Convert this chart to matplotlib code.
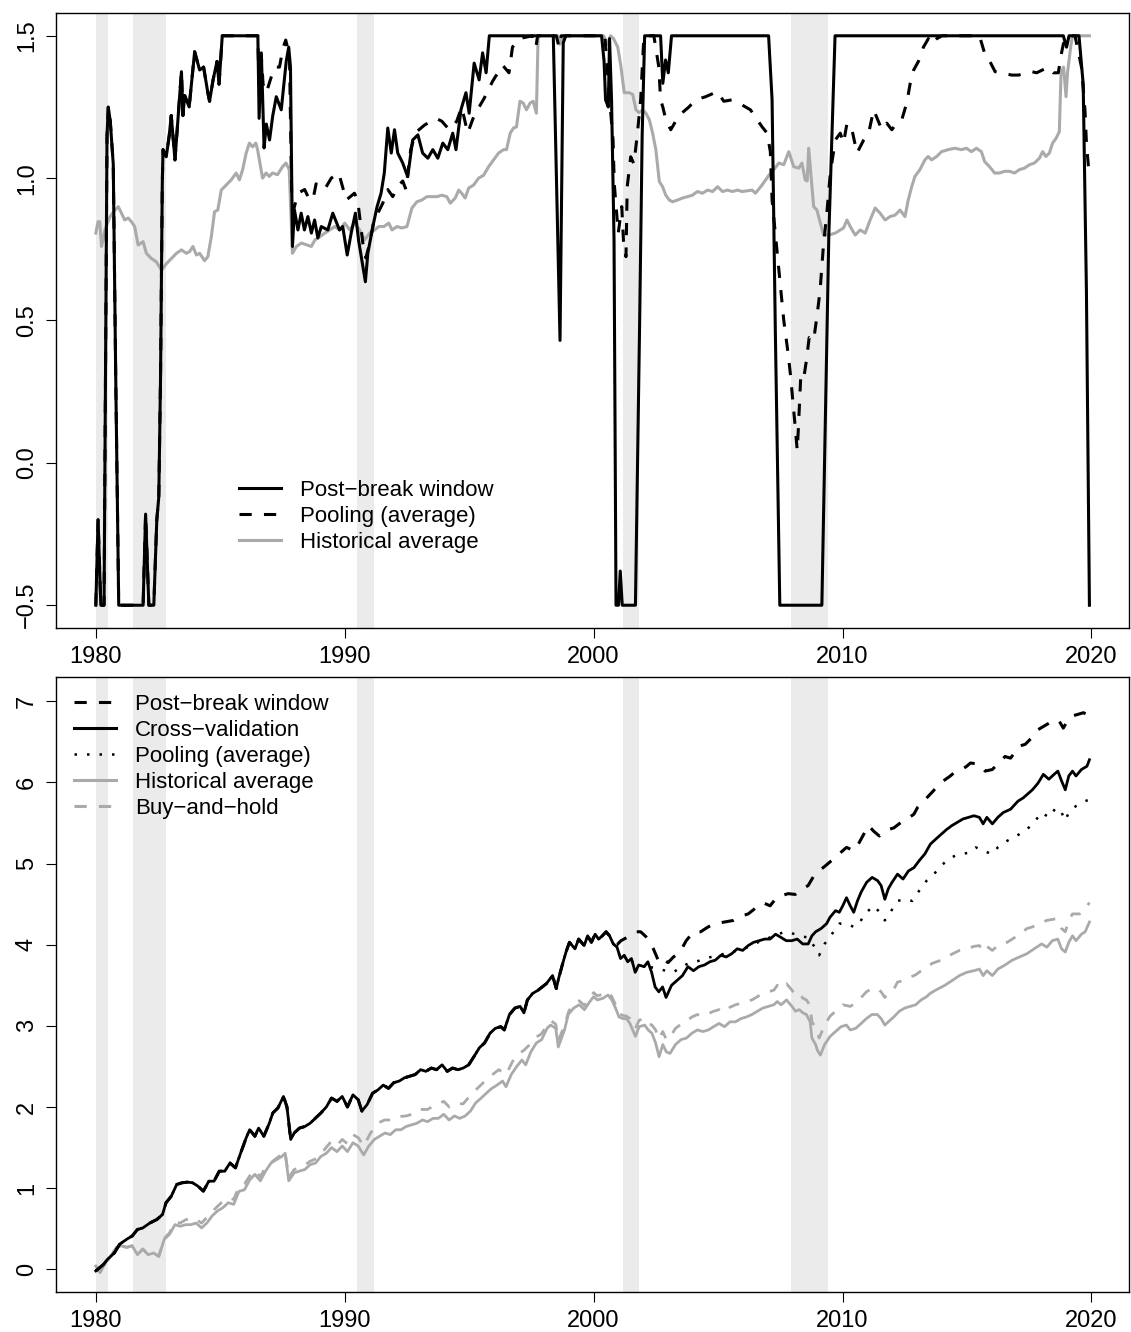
import matplotlib
matplotlib.use("Agg")
import matplotlib.pyplot as plt

plt.rcParams['font.family'] = ['Liberation Sans', 'DejaVu Sans']

# NBER recessions (start, end)
recessions = [(1980.0, 1980.5), (1981.5, 1982.83), (1990.5, 1991.17),
              (2001.17, 2001.83), (2007.92, 2009.42)]

# ---------- top panel: portfolio weights ----------
wb_t = [1980.0, 1980.09, 1980.2, 1980.33, 1980.45, 1980.5, 1980.58, 1980.7, 1980.8, 1980.92,
        1981.9, 1982.0, 1982.13, 1982.33, 1982.45, 1982.53, 1982.6, 1982.67, 1982.7, 1982.83,
        1982.95, 1983.03, 1983.18, 1983.44, 1983.5, 1983.57, 1983.75, 1983.97, 1984.17, 1984.33,
        1984.5, 1984.57, 1984.71, 1984.87, 1984.95, 1985.08, 1986.51, 1986.56, 1986.65, 1986.76,
        1986.85, 1986.98, 1987.11, 1987.25, 1987.45, 1987.65, 1987.75, 1987.82, 1987.9, 1987.98,
        1988.12, 1988.25, 1988.38, 1988.52, 1988.66, 1988.79, 1988.92, 1989.06, 1989.32, 1989.52,
        1989.79, 1989.92, 1990.1, 1990.26, 1990.43, 1990.56, 1990.73, 1990.83, 1990.93, 1991.13,
        1991.3, 1991.46, 1991.59, 1991.73, 1991.87, 1992.0, 1992.13, 1992.33, 1992.53, 1992.73,
        1992.94, 1993.13, 1993.34, 1993.54, 1993.74, 1993.94, 1994.14, 1994.34, 1994.47, 1994.67,
        1994.87, 1995.0, 1995.2, 1995.4, 1995.54, 1995.68, 1995.81, 1998.38, 1998.5, 1998.65,
        1998.78, 1998.88, 2000.32, 2000.42, 2000.48, 2000.59, 2000.64, 2000.72, 2000.82, 2000.9,
        2001.0, 2001.07, 2001.15, 2001.68, 2001.85, 2001.95, 2002.05, 2002.69, 2002.78, 2002.89,
        2003.0, 2003.13, 2007.03, 2007.17, 2007.3, 2007.48, 2009.17, 2009.45, 2009.7, 2018.87,
        2019.0, 2019.1, 2019.5, 2019.67, 2019.8, 2019.92]
wb_w = [-0.5, -0.2, -0.5, -0.5, 1.15, 1.25, 1.2, 1.05, 0.3, -0.5,
        -0.5, -0.18, -0.5, -0.5, -0.2, -0.12, 0.3, 0.98, 1.1, 1.075,
        1.15, 1.22, 1.064, 1.374, 1.22, 1.29, 1.25, 1.444, 1.38, 1.39,
        1.30, 1.27, 1.345, 1.41, 1.33, 1.5, 1.5, 1.21, 1.44, 1.106,
        1.19, 1.134, 1.22, 1.286, 1.24, 1.41, 1.46, 1.39, 0.76, 0.888,
        0.818, 0.877, 0.818, 0.865, 0.807, 0.853, 0.79, 0.83, 0.818, 0.877,
        0.818, 0.83, 0.73, 0.807, 0.877, 0.78, 0.69, 0.636, 0.737, 0.83,
        0.9, 0.947, 1.018, 1.176, 1.088, 1.17, 1.088, 1.053, 1.005, 1.134,
        1.152, 1.088, 1.07, 1.1, 1.07, 1.123, 1.1, 1.158, 1.1, 1.24,
        1.30, 1.228, 1.404, 1.345, 1.44, 1.37, 1.5, 1.5, 1.018, 0.43,
        1.475, 1.5, 1.5, 1.41, 1.275, 1.25, 1.49, 1.275, 0.783, -0.5,
        -0.5, -0.38, -0.5, -0.5, 0.5, 1.15, 1.5, 1.5, 1.333, 1.415,
        1.37, 1.5, 1.5, 1.275, 0.467, -0.5, -0.5, 0.8, 1.5, 1.5,
        1.46, 1.5, 1.5, 1.33, 0.6, -0.5]

wp_t = [1980.0, 1980.09, 1980.2, 1980.33, 1980.45, 1980.5, 1980.58, 1980.7, 1980.8, 1980.92,
        1981.9, 1982.0, 1982.13, 1982.33, 1982.45, 1982.53, 1982.6, 1982.67, 1982.7, 1982.83,
        1982.95, 1983.03, 1983.18, 1983.44, 1983.5, 1983.57, 1983.75, 1983.97, 1984.17, 1984.33,
        1984.5, 1984.57, 1984.71, 1984.87, 1984.95, 1985.08, 1986.51, 1986.56, 1986.65, 1986.72,
        1986.85, 1987.05, 1987.18, 1987.38, 1987.52, 1987.63, 1987.78, 1987.87, 1987.95, 1988.12,
        1988.39, 1988.55, 1988.72, 1988.85, 1989.19, 1989.46, 1989.76, 1990.06, 1990.39, 1990.52,
        1990.73, 1990.85, 1991.0, 1991.15, 1991.33, 1991.53, 1991.73, 1991.93, 1992.13, 1992.33,
        1992.46, 1992.65, 1992.85, 1993.2, 1993.66, 1993.9, 1994.2, 1994.5, 1994.7, 1994.94,
        1995.2, 1995.6, 1995.94, 1996.34, 1996.6, 1996.74, 1997.0, 1997.54, 1997.68, 1997.75,
        1998.5, 1998.61, 1998.7, 2000.45, 2000.62, 2000.78, 2000.83, 2000.99, 2001.13, 2001.2,
        2001.3, 2001.35, 2001.49, 2001.62, 2001.76, 2001.89, 2002.02, 2002.42, 2002.62, 2002.69,
        2002.78, 2002.9, 2003.1, 2003.43, 2003.83, 2004.1, 2004.5, 2004.97, 2005.23, 2005.56,
        2005.83, 2006.3, 2006.77, 2006.97, 2007.1, 2007.17, 2007.3, 2007.5, 2007.64, 2007.82,
        2007.92, 2008.0, 2008.1, 2008.18, 2008.22, 2008.28, 2008.32, 2008.43, 2008.55, 2008.66,
        2008.84, 2008.98, 2009.1, 2009.23, 2009.37, 2009.51, 2009.71, 2009.91, 2010.04, 2010.18,
        2010.38, 2010.58, 2010.85, 2011.05, 2011.25, 2011.58, 2011.78, 2011.98, 2012.18, 2012.38,
        2012.58, 2012.72, 2012.86, 2013.05, 2013.25, 2013.45, 2013.58, 2013.79, 2014.0, 2015.5,
        2015.73, 2015.86, 2016.13, 2016.33, 2016.8, 2017.07, 2017.6, 2017.8, 2018.27, 2018.47,
        2018.67, 2018.8, 2018.87, 2019.0, 2019.34, 2019.6, 2019.74, 2019.8, 2019.92]
wp_w = [-0.5, -0.2, -0.5, -0.5, 1.15, 1.25, 1.2, 1.05, 0.3, -0.5,
        -0.5, -0.18, -0.5, -0.5, -0.2, -0.12, 0.3, 0.98, 1.1, 1.075,
        1.15, 1.22, 1.064, 1.374, 1.22, 1.29, 1.25, 1.444, 1.38, 1.39,
        1.30, 1.27, 1.345, 1.41, 1.33, 1.5, 1.5, 1.3, 1.427, 1.33,
        1.30, 1.356, 1.39, 1.39, 1.457, 1.485, 1.43, 0.935, 0.89, 0.947,
        0.96, 0.93, 0.923, 0.98, 0.96, 1.0, 1.018, 0.923, 0.947, 0.923,
        0.77, 0.72, 0.77, 0.84, 0.877, 0.912, 0.96, 0.935, 0.97, 0.99,
        0.96, 1.1, 1.16, 1.186, 1.21, 1.2, 1.17, 1.2, 1.25, 1.158,
        1.22, 1.28, 1.34, 1.397, 1.37, 1.46, 1.49, 1.5, 1.46, 1.5,
        1.5, 1.46, 1.5, 1.5, 1.3, 1.134, 0.98, 0.807, 0.9, 0.78,
        0.724, 0.97, 1.075, 1.05, 1.158, 1.275, 1.5, 1.5, 1.39, 1.275,
        1.25, 1.205, 1.17, 1.22, 1.25, 1.275, 1.286, 1.304, 1.27, 1.275,
        1.264, 1.24, 1.18, 1.158, 1.093, 0.923, 0.807, 0.63, 0.5, 0.38,
        0.30, 0.22, 0.126, 0.044, 0.11, 0.22, 0.3, 0.29, 0.36, 0.44,
        0.43, 0.52, 0.607, 0.76, 0.877, 1.018, 1.134, 1.158, 1.123, 1.193,
        1.17, 1.088, 1.134, 1.158, 1.24, 1.17, 1.193, 1.17, 1.193, 1.205,
        1.264, 1.333, 1.38, 1.41, 1.46, 1.49, 1.47, 1.49, 1.5, 1.5,
        1.433, 1.42, 1.374, 1.37, 1.362, 1.362, 1.374, 1.37, 1.39, 1.37,
        1.37, 1.44, 1.47, 1.5, 1.5, 1.39, 1.24, 1.123, 1.0]

wh_t = [1980.0, 1980.09, 1980.16, 1980.23, 1980.37, 1980.57, 1980.77, 1980.9, 1981.03, 1981.16,
        1981.3, 1981.43, 1981.56, 1981.7, 1981.9, 1982.03, 1982.23, 1982.43, 1982.64, 1982.84,
        1983.04, 1983.24, 1983.44, 1983.64, 1983.77, 1983.9, 1984.04, 1984.17, 1984.37, 1984.5,
        1984.64, 1984.77, 1984.9, 1985.04, 1985.24, 1985.44, 1985.64, 1985.77, 1985.9, 1986.04,
        1986.17, 1986.3, 1986.43, 1986.5, 1986.57, 1986.7, 1986.84, 1986.97, 1987.1, 1987.3,
        1987.5, 1987.64, 1987.77, 1987.9, 1988.06, 1988.26, 1988.46, 1988.66, 1988.8, 1989.0,
        1989.2, 1989.4, 1989.6, 1989.8, 1990.0, 1990.2, 1990.4, 1990.6, 1990.8, 1991.0,
        1991.2, 1991.37, 1991.57, 1991.77, 1991.9, 1992.1, 1992.3, 1992.5, 1992.7, 1992.9,
        1993.1, 1993.3, 1993.5, 1993.7, 1993.9, 1994.1, 1994.24, 1994.44, 1994.58, 1994.7,
        1994.84, 1994.98, 1995.18, 1995.38, 1995.58, 1995.78, 1995.98, 1996.18, 1996.38, 1996.5,
        1996.65, 1996.78, 1996.9, 1997.04, 1997.17, 1997.3, 1997.45, 1997.57, 1997.7, 1997.77,
        1998.57, 1998.64, 1998.77, 2000.4, 2000.55, 2000.68, 2000.8, 2000.97, 2001.1, 2001.23,
        2001.43, 2001.57, 2001.7, 2001.83, 2001.97, 2002.1, 2002.24, 2002.37, 2002.5, 2002.64,
        2002.77, 2002.9, 2003.04, 2003.17, 2003.37, 2003.57, 2003.77, 2003.97, 2004.17, 2004.37,
        2004.58, 2004.78, 2004.98, 2005.18, 2005.38, 2005.58, 2005.78, 2005.97, 2006.37, 2006.5,
        2006.77, 2007.04, 2007.24, 2007.44, 2007.64, 2007.84, 2008.04, 2008.24, 2008.37, 2008.5,
        2008.58, 2008.64, 2008.75, 2008.84, 2008.97, 2009.11, 2009.24, 2009.44, 2009.71, 2010.04,
        2010.18, 2010.31, 2010.51, 2010.71, 2010.91, 2011.11, 2011.31, 2011.51, 2011.71, 2011.91,
        2012.11, 2012.31, 2012.51, 2012.64, 2012.78, 2012.91, 2013.11, 2013.31, 2013.44, 2013.58,
        2013.78, 2013.98, 2014.24, 2014.51, 2014.78, 2014.98, 2015.18, 2015.38, 2015.58, 2015.71,
        2015.91, 2016.11, 2016.31, 2016.51, 2016.71, 2016.91, 2017.11, 2017.31, 2017.51, 2017.71,
        2017.91, 2018.04, 2018.17, 2018.31, 2018.44, 2018.58, 2018.71, 2018.78, 2018.88, 2018.98,
        2019.04, 2019.18, 2019.24, 2019.92]
wh_w = [0.807, 0.847, 0.847, 0.76, 0.82, 0.865, 0.888, 0.9, 0.877, 0.853,
        0.86, 0.847, 0.83, 0.765, 0.777, 0.736, 0.718, 0.706, 0.677, 0.70,
        0.718, 0.736, 0.748, 0.736, 0.742, 0.76, 0.73, 0.736, 0.71, 0.724,
        0.794, 0.882, 0.888, 0.958, 0.976, 0.994, 1.018, 0.994, 1.03, 1.088,
        1.123, 1.11, 1.123, 1.1, 1.064, 1.0, 1.018, 1.006, 1.018, 1.012,
        1.04, 1.053, 1.03, 0.736, 0.76, 0.772, 0.766, 0.76, 0.783, 0.794,
        0.807, 0.818, 0.83, 0.818, 0.842, 0.818, 0.842, 0.818, 0.783, 0.807,
        0.818, 0.83, 0.83, 0.842, 0.818, 0.83, 0.825, 0.83, 0.895, 0.917,
        0.923, 0.935, 0.935, 0.935, 0.94, 0.935, 0.912, 0.93, 0.958, 0.947,
        0.93, 0.965, 0.976, 1.0, 1.01, 1.04, 1.064, 1.088, 1.1, 1.1,
        1.158, 1.176, 1.18, 1.27, 1.264, 1.24, 1.264, 1.27, 1.228, 1.5,
        1.5, 1.47, 1.5, 1.5, 1.47, 1.5, 1.49, 1.46, 1.39, 1.30,
        1.30, 1.294, 1.24, 1.23, 1.24, 1.228, 1.205, 1.158, 1.1, 0.988,
        0.97, 0.94, 0.923, 0.917, 0.923, 0.93, 0.935, 0.94, 0.953, 0.947,
        0.958, 0.953, 0.97, 0.953, 0.958, 0.953, 0.958, 0.953, 0.958, 0.947,
        0.976, 1.01, 1.03, 1.053, 1.047, 1.093, 1.04, 1.035, 1.053, 0.994,
        0.99, 1.105, 0.994, 0.9, 0.888, 0.842, 0.8, 0.8, 0.807, 0.825,
        0.853, 0.83, 0.8, 0.818, 0.807, 0.853, 0.895, 0.877, 0.853, 0.865,
        0.87, 0.888, 0.865, 0.923, 0.97, 1.006, 1.03, 1.064, 1.076, 1.064,
        1.076, 1.093, 1.1, 1.105, 1.1, 1.105, 1.093, 1.105, 1.093, 1.058,
        1.04, 1.018, 1.018, 1.024, 1.024, 1.018, 1.03, 1.035, 1.047, 1.053,
        1.07, 1.093, 1.076, 1.088, 1.123, 1.14, 1.163, 1.37, 1.39, 1.286,
        1.37, 1.47, 1.5, 1.5]

# ---------- bottom panel: cumulative returns ----------
cv_t = [1980.0, 1980.31, 1980.46, 1980.74, 1980.96, 1981.24, 1981.46, 1981.67, 1981.89, 1982.17,
        1982.46, 1982.68, 1982.82, 1983.03, 1983.25, 1983.46, 1983.68, 1983.89, 1984.1, 1984.32,
        1984.54, 1984.75, 1984.96, 1985.18, 1985.39, 1985.61, 1985.82, 1986.04, 1986.18, 1986.39,
        1986.54, 1986.75, 1986.97, 1987.11, 1987.32, 1987.54, 1987.68, 1987.83, 1987.97, 1988.18,
        1988.4, 1988.61, 1988.83, 1989.04, 1989.26, 1989.47, 1989.69, 1989.9, 1990.11, 1990.33,
        1990.54, 1990.69, 1990.9, 1991.12, 1991.33, 1991.55, 1991.76, 1991.97, 1992.19, 1992.4,
        1992.62, 1992.83, 1993.05, 1993.26, 1993.48, 1993.69, 1993.91, 1994.12, 1994.33, 1994.55,
        1994.76, 1994.98, 1995.19, 1995.41, 1995.62, 1995.84, 1996.05, 1996.27, 1996.41, 1996.62,
        1996.84, 1997.05, 1997.2, 1997.34, 1997.55, 1997.77, 1998.1, 1998.35, 1998.5, 1998.59,
        1998.74, 1998.89, 1999.03, 1999.25, 1999.4, 1999.62, 1999.76, 1999.91, 2000.06, 2000.2,
        2000.35, 2000.5, 2000.64, 2000.79, 2000.94, 2001.08, 2001.23, 2001.37, 2001.52, 2001.67,
        2001.81, 2002.03, 2002.18, 2002.33, 2002.47, 2002.62, 2002.77, 2002.91, 2003.13, 2003.35,
        2003.57, 2003.79, 2004.01, 2004.23, 2004.45, 2004.67, 2004.89, 2005.11, 2005.33, 2005.55,
        2005.77, 2005.99, 2006.21, 2006.43, 2006.65, 2006.87, 2007.09, 2007.31, 2007.53, 2007.74,
        2007.96, 2008.18, 2008.4, 2008.62, 2008.77, 2008.92, 2009.14, 2009.36, 2009.5, 2009.72,
        2009.87, 2010.01, 2010.16, 2010.31, 2010.45, 2010.6, 2010.75, 2010.97, 2011.19, 2011.41,
        2011.55, 2011.7, 2011.84, 2011.99, 2012.21, 2012.43, 2012.65, 2012.87, 2013.09, 2013.31,
        2013.53, 2013.74, 2013.96, 2014.18, 2014.4, 2014.62, 2014.84, 2015.06, 2015.28, 2015.5,
        2015.65, 2015.8, 2016.02, 2016.24, 2016.46, 2016.75, 2017.05, 2017.26, 2017.48, 2017.63,
        2017.85, 2018.07, 2018.29, 2018.5, 2018.65, 2018.8, 2018.95, 2019.09, 2019.24, 2019.38,
        2019.6, 2019.82, 2019.92]
cv_r = [-0.02, 0.06, 0.12, 0.2, 0.31, 0.37, 0.41, 0.49, 0.51, 0.57,
        0.615, 0.676, 0.82, 0.9, 1.045, 1.066, 1.074, 1.066, 1.025, 0.963,
        1.086, 1.086, 1.209, 1.209, 1.31, 1.25, 1.434, 1.619, 1.72, 1.64,
        1.74, 1.64, 1.8, 1.926, 1.99, 2.13, 2.0, 1.6, 1.68, 1.74,
        1.76, 1.8, 1.865, 1.926, 2.0, 2.11, 2.07, 2.13, 2.0, 2.15,
        2.09, 1.95, 2.03, 2.17, 2.21, 2.27, 2.23, 2.3, 2.32, 2.36,
        2.38, 2.4, 2.46, 2.44, 2.48, 2.46, 2.52, 2.44, 2.48, 2.46,
        2.48, 2.52, 2.62, 2.73, 2.79, 2.91, 2.97, 2.99, 2.95, 3.14,
        3.22, 3.24, 3.16, 3.32, 3.4, 3.44, 3.52, 3.62, 3.46, 3.58,
        3.75, 3.91, 4.03, 3.95, 4.07, 3.99, 4.11, 4.03, 4.13, 4.07,
        4.11, 4.16, 4.11, 4.01, 3.97, 3.83, 3.87, 3.79, 3.83, 3.66,
        3.75, 3.73, 3.79, 3.66, 3.48, 3.42, 3.48, 3.35, 3.5, 3.56,
        3.62, 3.73, 3.68, 3.73, 3.75, 3.79, 3.81, 3.87, 3.85, 3.89,
        3.95, 3.93, 3.99, 4.03, 4.05, 4.07, 4.07, 4.13, 4.09, 4.05,
        4.05, 4.07, 4.01, 4.01, 4.11, 4.16, 4.2, 4.26, 4.34, 4.42,
        4.4, 4.48, 4.58, 4.48, 4.4, 4.54, 4.65, 4.77, 4.83, 4.79,
        4.73, 4.56, 4.69, 4.77, 4.87, 4.81, 4.91, 4.95, 5.04, 5.12,
        5.24, 5.3, 5.36, 5.42, 5.47, 5.51, 5.55, 5.57, 5.59, 5.57,
        5.49, 5.57, 5.49, 5.57, 5.63, 5.67, 5.77, 5.81, 5.87, 5.91,
        5.99, 6.1, 6.04, 6.1, 6.14, 6.02, 5.91, 6.08, 6.14, 6.08,
        6.16, 6.2, 6.28]

pb_t = [2000.94, 2001.1, 2001.4, 2001.67, 2001.89, 2002.1, 2002.25, 2002.4, 2002.62, 2002.77,
        2002.99, 2003.21, 2003.45, 2003.72, 2004.01, 2004.3, 2004.6, 2004.89, 2005.25, 2005.62,
        2005.9, 2006.21, 2006.5, 2006.79, 2007.09, 2007.35, 2007.6, 2007.82, 2008.1, 2008.4,
        2008.62, 2008.85, 2009.06, 2009.3, 2009.57, 2009.79, 2010.16, 2010.45, 2010.6, 2010.85,
        2011.04, 2011.25, 2011.48, 2011.63, 2011.84, 2012.06, 2012.36, 2012.6, 2012.87, 2013.01,
        2013.38, 2013.6, 2013.89, 2014.1, 2014.33, 2014.48, 2014.75, 2014.99, 2015.14, 2015.4,
        2015.58, 2015.73, 2016.02, 2016.3, 2016.53, 2016.75, 2017.12, 2017.34, 2017.6, 2017.85,
        2018.07, 2018.29, 2018.5, 2018.7, 2018.87, 2019.02, 2019.24, 2019.46, 2019.68, 2019.92]
pb_r = [4.0, 4.05, 4.1, 4.16, 4.16, 4.1, 4.03, 3.95, 3.79, 3.83,
        3.78, 3.85, 3.9, 4.05, 4.16, 4.16, 4.22, 4.26, 4.28, 4.3,
        4.35, 4.38, 4.45, 4.52, 4.48, 4.58, 4.61, 4.63, 4.62, 4.69,
        4.73, 4.85, 4.91, 4.97, 5.04, 5.1, 5.2, 5.16, 5.22, 5.36,
        5.47, 5.4, 5.34, 5.38, 5.42, 5.44, 5.51, 5.55, 5.61, 5.69,
        5.81, 5.88, 5.98, 6.03, 6.08, 6.12, 6.15, 6.2, 6.24, 6.23,
        6.2, 6.14, 6.16, 6.25, 6.32, 6.3, 6.45, 6.47, 6.55, 6.65,
        6.69, 6.73, 6.77, 6.76, 6.67, 6.75, 6.82, 6.84, 6.86, 6.82]

po_t = [2002.33, 2002.6, 2002.9, 2003.2, 2003.5, 2003.8, 2004.2, 2004.6, 2005.0, 2005.4,
        2005.8, 2006.2, 2006.6, 2007.0, 2007.35, 2007.67, 2008.11, 2008.4, 2008.62, 2008.84,
        2009.06, 2009.28, 2009.57, 2009.87, 2010.16, 2010.45, 2010.67, 2010.89, 2011.26, 2011.55,
        2011.7, 2011.92, 2012.21, 2012.5, 2012.8, 2013.09, 2013.38, 2013.67, 2013.96, 2014.26,
        2014.55, 2014.84, 2015.14, 2015.36, 2015.58, 2016.02, 2016.24, 2016.61, 2016.97, 2017.34,
        2017.7, 2018.0, 2018.29, 2018.58, 2018.8, 2018.95, 2019.09, 2019.38, 2019.75, 2019.92]
po_r = [3.72, 3.7, 3.68, 3.66, 3.72, 3.77, 3.8, 3.84, 3.87, 3.9,
        3.93, 3.97, 4.03, 4.08, 4.12, 4.16, 4.13, 4.1, 4.09, 3.99,
        3.87, 4.01, 4.13, 4.26, 4.26, 4.22, 4.26, 4.38, 4.48, 4.38,
        4.3, 4.4, 4.54, 4.56, 4.54, 4.67, 4.79, 4.87, 4.97, 5.06,
        5.1, 5.12, 5.14, 5.2, 5.16, 5.12, 5.2, 5.28, 5.34, 5.4,
        5.51, 5.63, 5.57, 5.69, 5.63, 5.53, 5.63, 5.71, 5.77, 5.79]

ha_t = [1980.0, 1980.17, 1980.39, 1980.6, 1980.82, 1981.03, 1981.24, 1981.46, 1981.67, 1981.89,
        1982.1, 1982.32, 1982.53, 1982.75, 1982.96, 1983.18, 1983.39, 1983.61, 1983.82, 1984.03,
        1984.25, 1984.46, 1984.68, 1984.89, 1985.11, 1985.32, 1985.54, 1985.75, 1985.97, 1986.18,
        1986.39, 1986.61, 1986.82, 1987.04, 1987.25, 1987.47, 1987.61, 1987.75, 1987.97, 1988.18,
        1988.4, 1988.61, 1988.83, 1989.04, 1989.26, 1989.47, 1989.69, 1989.9, 1990.11, 1990.33,
        1990.54, 1990.76, 1990.97, 1991.19, 1991.4, 1991.62, 1991.83, 1992.05, 1992.26, 1992.47,
        1992.69, 1992.9, 1993.12, 1993.33, 1993.55, 1993.76, 1993.98, 1994.19, 1994.41, 1994.62,
        1994.84, 1995.05, 1995.26, 1995.48, 1995.69, 1995.91, 1996.12, 1996.34, 1996.48, 1996.69,
        1996.91, 1997.12, 1997.27, 1997.48, 1997.7, 1997.91, 1998.13, 1998.27, 1998.48, 1998.58,
        1998.83, 1998.98, 1999.2, 1999.42, 1999.63, 1999.85, 2000.0, 2000.15, 2000.37, 2000.58,
        2000.73, 2000.88, 2001.02, 2001.17, 2001.32, 2001.46, 2001.68, 2001.83, 2002.05, 2002.19,
        2002.34, 2002.49, 2002.63, 2002.78, 2002.92, 2003.07, 2003.29, 2003.51, 2003.73, 2003.95,
        2004.17, 2004.39, 2004.61, 2004.82, 2005.04, 2005.26, 2005.48, 2005.7, 2005.92, 2006.14,
        2006.36, 2006.58, 2006.8, 2007.02, 2007.24, 2007.38, 2007.53, 2007.75, 2007.97, 2008.11,
        2008.26, 2008.41, 2008.55, 2008.7, 2008.77, 2008.92, 2008.99, 2009.11, 2009.28, 2009.5,
        2009.72, 2009.94, 2010.16, 2010.31, 2010.53, 2010.75, 2010.96, 2011.18, 2011.4, 2011.55,
        2011.7, 2011.84, 2012.06, 2012.28, 2012.5, 2012.72, 2012.94, 2013.16, 2013.38, 2013.52,
        2013.74, 2014.11, 2014.41, 2014.7, 2014.99, 2015.28, 2015.5, 2015.65, 2015.8, 2016.02,
        2016.24, 2016.53, 2016.82, 2017.12, 2017.41, 2017.7, 2018.0, 2018.21, 2018.43, 2018.65,
        2018.8, 2018.95, 2019.09, 2019.24, 2019.38, 2019.6, 2019.75, 2019.92]
ha_r = [0.04, -0.04, 0.08, 0.16, 0.27, 0.29, 0.27, 0.29, 0.18, 0.25,
        0.18, 0.2, 0.16, 0.37, 0.43, 0.55, 0.53, 0.55, 0.55, 0.57,
        0.51, 0.57, 0.66, 0.72, 0.76, 0.82, 0.8, 0.96, 0.98, 1.1,
        1.17, 1.09, 1.21, 1.31, 1.35, 1.39, 1.43, 1.09, 1.19, 1.21,
        1.23, 1.29, 1.31, 1.39, 1.43, 1.5, 1.45, 1.52, 1.45, 1.56,
        1.52, 1.41, 1.52, 1.6, 1.64, 1.68, 1.66, 1.72, 1.72, 1.76,
        1.78, 1.8, 1.84, 1.82, 1.86, 1.86, 1.91, 1.84, 1.89, 1.86,
        1.89, 1.95, 2.05, 2.11, 2.17, 2.23, 2.27, 2.32, 2.25, 2.4,
        2.5, 2.58, 2.52, 2.68, 2.79, 2.83, 2.97, 3.01, 2.97, 2.74,
        2.95, 3.14, 3.22, 3.26, 3.2, 3.3, 3.36, 3.32, 3.34, 3.38,
        3.32, 3.22, 3.11, 3.09, 3.09, 3.03, 2.87, 2.99, 3.01, 2.95,
        2.91, 2.79, 2.62, 2.77, 2.68, 2.66, 2.77, 2.83, 2.85, 2.91,
        2.95, 2.93, 2.95, 2.99, 3.03, 2.99, 3.05, 3.05, 3.09, 3.11,
        3.14, 3.18, 3.22, 3.24, 3.26, 3.3, 3.26, 3.32, 3.24, 3.18,
        3.2, 3.16, 3.14, 3.05, 2.85, 2.77, 2.7, 2.64, 2.77, 2.87,
        2.93, 2.99, 3.01, 2.95, 2.97, 3.03, 3.09, 3.14, 3.14, 3.09,
        3.01, 3.05, 3.11, 3.18, 3.22, 3.24, 3.26, 3.32, 3.36, 3.4,
        3.44, 3.5, 3.56, 3.62, 3.66, 3.68, 3.7, 3.62, 3.68, 3.62,
        3.7, 3.75, 3.81, 3.85, 3.89, 3.95, 4.01, 3.97, 4.05, 4.07,
        3.95, 3.91, 4.03, 4.11, 4.05, 4.13, 4.16, 4.28]

bh_t = [1980.0, 1980.17, 1980.39, 1980.6, 1980.82, 1981.03, 1981.24, 1981.46, 1981.67, 1981.89,
        1982.1, 1982.32, 1982.53, 1982.75, 1982.96, 1983.18, 1983.39, 1983.61, 1983.89, 1984.1,
        1984.25, 1984.46, 1984.7, 1985.04, 1985.32, 1985.54, 1985.75, 1985.97, 1986.18, 1986.39,
        1986.61, 1986.82, 1987.18, 1987.4, 1987.6, 1987.75, 1987.97, 1988.33, 1988.6, 1988.9,
        1989.2, 1989.47, 1989.7, 1989.9, 1990.1, 1990.33, 1990.55, 1990.76, 1991.04, 1991.33,
        1991.6, 1991.83, 1992.1, 1992.47, 1992.8, 1993.0, 1993.33, 1993.6, 1993.98, 1994.2,
        1994.41, 1994.76, 1995.12, 1995.4, 1995.77, 1996.19, 1996.48, 1996.84, 1997.2, 1997.4,
        1997.63, 1997.9, 1998.13, 1998.3, 1998.48, 1998.58, 1998.83, 1999.0, 1999.2, 1999.42,
        1999.63, 1999.85, 2000.0, 2000.15, 2000.37, 2000.58, 2000.73, 2000.88, 2001.02, 2001.17,
        2001.32, 2001.46, 2001.68, 2001.83, 2002.05, 2002.19, 2002.34, 2002.49, 2002.63, 2002.78,
        2002.92, 2003.07, 2003.29, 2003.51, 2003.73, 2003.95, 2004.17, 2004.39, 2004.61, 2004.82,
        2005.04, 2005.26, 2005.48, 2005.7, 2005.92, 2006.14, 2006.36, 2006.58, 2006.8, 2007.02,
        2007.24, 2007.38, 2007.53, 2007.75, 2007.97, 2008.11, 2008.26, 2008.41, 2008.55, 2008.7,
        2008.77, 2008.92, 2009.06, 2009.2, 2009.36, 2009.5, 2009.72, 2010.01, 2010.31, 2010.53,
        2010.75, 2010.96, 2011.18, 2011.4, 2011.55, 2011.7, 2011.84, 2012.06, 2012.21, 2012.5,
        2012.72, 2012.94, 2013.16, 2013.38, 2013.6, 2013.96, 2014.3, 2014.7, 2015.0, 2015.28,
        2015.5, 2015.65, 2015.8, 2016.02, 2016.24, 2016.61, 2016.82, 2017.12, 2017.41, 2017.63,
        2017.9, 2018.21, 2018.58, 2018.8, 2018.95, 2019.09, 2019.24, 2019.53, 2019.75, 2019.92]
bh_r = [0.04, -0.04, 0.08, 0.16, 0.27, 0.29, 0.27, 0.29, 0.18, 0.25,
        0.18, 0.2, 0.16, 0.38, 0.45, 0.58, 0.57, 0.61, 0.635, 0.6,
        0.57, 0.64, 0.72, 0.82, 0.88, 0.86, 1.02, 1.05, 1.15, 1.22,
        1.14, 1.26, 1.35, 1.4, 1.45, 1.13, 1.23, 1.27, 1.33, 1.37,
        1.48, 1.58, 1.53, 1.6, 1.55, 1.66, 1.62, 1.52, 1.68, 1.8,
        1.84, 1.84, 1.88, 1.89, 1.92, 1.97, 1.97, 2.02, 2.07, 2.0,
        2.04, 2.04, 2.17, 2.25, 2.36, 2.46, 2.4, 2.62, 2.7, 2.76,
        2.85, 2.9, 3.01, 3.06, 3.02, 2.82, 3.0, 3.18, 3.27, 3.31,
        3.25, 3.35, 3.41, 3.37, 3.39, 3.42, 3.36, 3.26, 3.15, 3.13,
        3.12, 3.09, 2.97, 3.07, 3.09, 3.03, 3.01, 2.95, 2.84, 2.93,
        2.83, 2.86, 2.97, 3.02, 3.06, 3.11, 3.14, 3.12, 3.15, 3.18,
        3.2, 3.17, 3.23, 3.26, 3.28, 3.3, 3.32, 3.36, 3.4, 3.42,
        3.44, 3.5, 3.46, 3.52, 3.44, 3.38, 3.4, 3.34, 3.32, 3.25,
        3.05, 2.98, 2.85, 2.95, 3.05, 3.12, 3.18, 3.26, 3.24, 3.28,
        3.35, 3.42, 3.46, 3.46, 3.42, 3.35, 3.4, 3.45, 3.54, 3.56,
        3.6, 3.63, 3.68, 3.72, 3.77, 3.81, 3.87, 3.93, 3.95, 3.98,
        3.99, 3.92, 3.98, 3.93, 3.99, 4.03, 4.07, 4.13, 4.2, 4.22,
        4.26, 4.3, 4.32, 4.2, 4.16, 4.3, 4.38, 4.38, 4.44, 4.52]

BLACK = 'black'
GREY = '#AAAAAA'
SHADE = '#EBEBEB'


def style_axes(ax, ylim, yticks, fmt):
    ax.set_xlim(1978.40, 2021.51)
    ax.set_ylim(*ylim)
    for t0, t1 in recessions:
        ax.axvspan(t0, t1, color=SHADE, lw=0, zorder=0)
    ax.set_xticks([1980, 1990, 2000, 2010, 2020])
    ax.set_yticks(yticks)
    ax.set_yticklabels([fmt(v) for v in yticks], rotation=90, va='center')
    ax.tick_params(direction='out', length=7, width=0.8, labelsize=17)
    ax.tick_params(axis='x', pad=6)
    ax.tick_params(axis='y', pad=6)
    for sp in ax.spines.values():
        sp.set_linewidth(1.0)


fig = plt.figure(figsize=(11.31, 13.32), dpi=100)
ax1 = fig.add_axes([56 / 1131, 1 - 628 / 1332, 1073 / 1131, 615 / 1332])
ax2 = fig.add_axes([56 / 1131, 1 - 1292 / 1332, 1073 / 1131, 615 / 1332])

leg_kw = dict(loc='upper left', frameon=False, fontsize=16, handlelength=1.9,
              handletextpad=0.85, labelspacing=0.22, borderpad=0, borderaxespad=0)

# top panel
style_axes(ax1, (-0.58, 1.58), [-0.5, 0.0, 0.5, 1.0, 1.5],
           lambda v: f"{v:.1f}".replace('-', '\u2212'))
ax1.plot(wh_t, wh_w, color=GREY, lw=2.2, label='Historical average', zorder=2)
ax1.plot(wp_t, wp_w, color=BLACK, lw=2.2, dashes=(4, 4), label='Pooling (average)', zorder=3)
ax1.plot(wb_t, wb_w, color=BLACK, lw=2.2, label='Post\u2212break window', zorder=4)
h, l = ax1.get_legend_handles_labels()
order = [2, 1, 0]
ax1.legend([h[i] for i in order], [l[i] for i in order],
           bbox_to_anchor=(0.1705, 0.2405), bbox_transform=ax1.transAxes, **leg_kw)

# bottom panel
style_axes(ax2, (-0.28, 7.30), list(range(8)), lambda v: str(v))
cut_pb = cv_t.index(2000.79) + 1
cut_po = cv_t.index(2002.18) + 1
ax2.plot(ha_t, ha_r, color=GREY, lw=2.0, zorder=2)
ax2.plot(bh_t, bh_r, color=GREY, lw=2.0, dashes=(4, 4), zorder=2)
ax2.plot(cv_t[:cut_po] + po_t, cv_r[:cut_po] + po_r, color=BLACK, lw=1.8,
         dashes=(1, 4), zorder=3)
ax2.plot(cv_t[:cut_pb] + pb_t, cv_r[:cut_pb] + pb_r, color=BLACK, lw=2.2,
         dashes=(4, 4), zorder=3)
ax2.plot(cv_t, cv_r, color=BLACK, lw=2.0, zorder=4)

leg_lines = [
    plt.Line2D([], [], color=BLACK, lw=2.2, dashes=(4, 4)),
    plt.Line2D([], [], color=BLACK, lw=2.2),
    plt.Line2D([], [], color=BLACK, lw=1.8, dashes=(1, 4)),
    plt.Line2D([], [], color=GREY, lw=2.2),
    plt.Line2D([], [], color=GREY, lw=2.2, dashes=(4, 4)),
]
leg_labels = ['Post\u2212break window', 'Cross\u2212validation', 'Pooling (average)',
              'Historical average', 'Buy\u2212and\u2212hold']
ax2.legend(leg_lines, leg_labels,
           bbox_to_anchor=(0.0168, 0.9724), bbox_transform=ax2.transAxes, **leg_kw)

fig.savefig('out.png', dpi=100)
